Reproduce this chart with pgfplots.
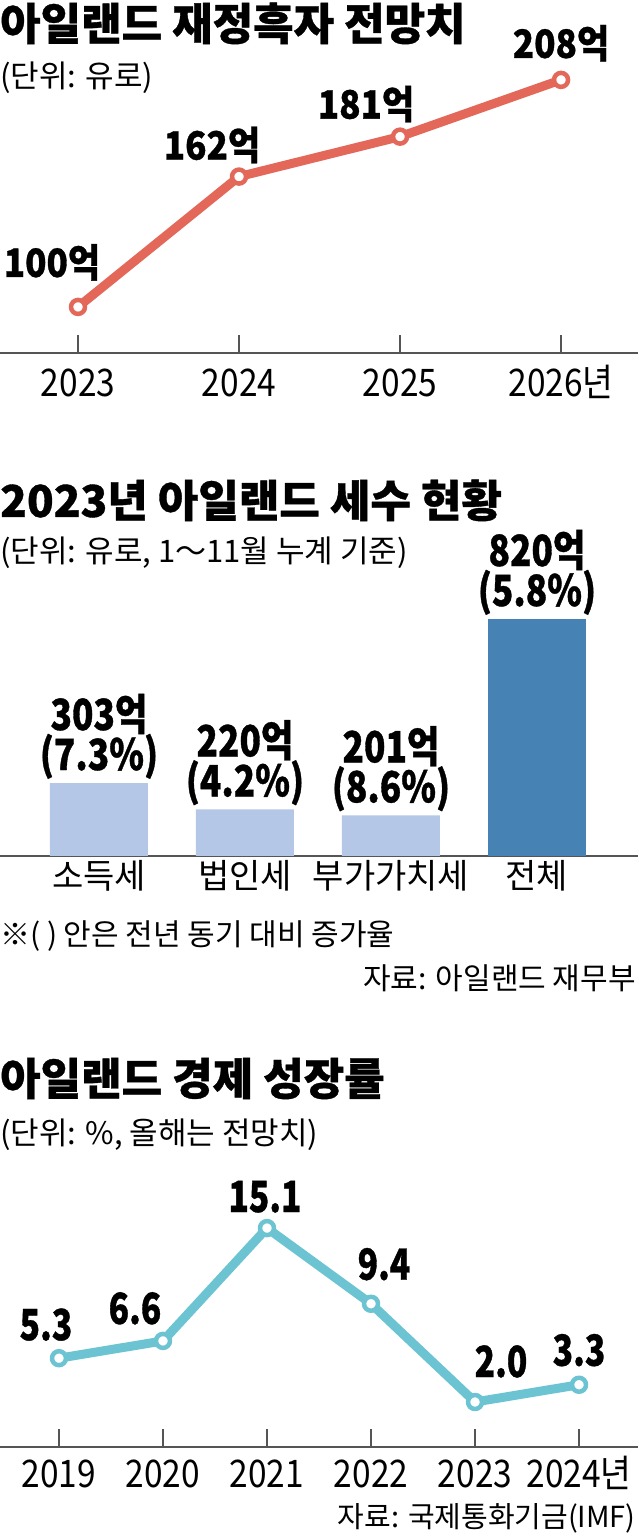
\documentclass[border=0pt]{standalone}
\usepackage{fontspec}
\setmainfont{Noto Sans CJK KR}[BoldFeatures={FakeBold=0.8}]
\newfontfamily\condT{Noto Sans CJK KR}[FakeStretch=0.88]
\newfontfamily\condA{Noto Sans CJK KR}[FakeStretch=0.9, BoldFeatures={FakeBold=0.8}]
\newfontfamily\condB{Noto Sans CJK KR}[FakeStretch=0.82, BoldFeatures={FakeBold=0.8}]
\newfontfamily\condC{Noto Sans CJK KR}[FakeStretch=0.78, BoldFeatures={FakeBold=0.8}]
\usepackage{pgfplots}
\pgfplotsset{compat=1.18}
\definecolor{lineRed}{HTML}{E3685A}
\definecolor{lineCyan}{HTML}{6CC4D2}
\definecolor{barLight}{HTML}{B4C7E7}
\definecolor{barDark}{HTML}{4682B4}
\definecolor{axisGray}{HTML}{555555}
\newcommand{\fs}[1]{\fontsize{#1}{#1}\selectfont}
\pgfplotsset{panel/.style={
  scale only axis, anchor=south west, width=638pt,
  axis x line=bottom, axis y line=none,
  x axis line style={-, draw=axisGray, line width=1.3pt},
  ytick=\empty, clip=false,
  xtick align=inside, major tick length=18pt,
  xtick style={draw=axisGray, line width=1.2pt},
  xticklabel style={anchor=base, inner sep=0pt, font=\condT\fs{38}},
}}
\begin{document}
\begin{tikzpicture}
\useasboundingbox (0pt,0pt) rectangle (638pt,1538pt);
% ---------- Panel 1 ----------
\node[anchor=base west, inner sep=0pt] at (0pt,1498pt) {\bfseries\fs{44}아일랜드 재정흑자 전망치};
\node[anchor=base west, inner sep=0pt] at (0pt,1450pt) {\fs{31}(단위: 유로)};
\begin{axis}[panel, at={(0pt,1185pt)}, height=353pt,
  xmin=-0.4845, xmax=3.478, ymin=78.1, ymax=246,
  xtick={0,1,2,3}, xticklabels={2023,2024,2025,2026년},
  xticklabel style={yshift=-44pt}]
\addplot[color=lineRed, line width=9pt, line join=round, mark=*, mark size=7pt,
  mark options={fill=white, draw=lineRed, line width=4.5pt}]
  coordinates {(0,100) (1,162) (2,181) (3,208)};
\begin{scope}[every node/.style={anchor=base, inner sep=0pt, font=\condA\bfseries\fs{39}}]
\node[xshift=-26pt, yshift=30pt] at (axis cs:0,100) {100억};
\node[xshift=-27pt, yshift=17pt] at (axis cs:1,162) {162억};
\node[xshift=-34pt, yshift=18pt] at (axis cs:2,181) {181억};
\node[xshift=0pt, yshift=22pt] at (axis cs:3,208) {208억};
\end{scope}
\end{axis}
% ---------- Panel 2 ----------
\node[anchor=base west, inner sep=0pt] at (0pt,1021pt) {\bfseries\fs{44}2023년 아일랜드 세수 현황};
\node[anchor=base west, inner sep=0pt] at (0pt,975pt) {\fs{31}(단위: 유로, 1～11월 누계 기준)};
\begin{axis}[panel, at={(0pt,682pt)}, height=256pt,
  xmin=-0.678, xmax=3.692, ymin=73, ymax=880,
  ybar, bar width=98pt, bar shift=0pt,
  major tick length=0pt,
  xtick={0,1,2,3}, xticklabels={소득세,법인세,부가가치세,전체},
  xticklabel style={yshift=-33pt, font=\fs{34}}]
\addplot[fill=barLight, draw=none] coordinates {(0,303) (1,220) (2,201)};
\addplot[fill=barDark, draw=none] coordinates {(3,820)};
\begin{scope}[every node/.style={anchor=base, inner sep=0pt, font=\condB\bfseries\fs{43}}]
\node[yshift=53pt] at (axis cs:0,303) {303억};
\node[yshift=13pt] at (axis cs:0,303) {(7.3\%)};
\node[yshift=53pt] at (axis cs:1,220) {220억};
\node[yshift=13pt] at (axis cs:1,220) {(4.2\%)};
\node[yshift=53pt] at (axis cs:2,201) {201억};
\node[yshift=13pt] at (axis cs:2,201) {(8.6\%)};
\node[yshift=53pt] at (axis cs:3,820) {820억};
\node[yshift=13pt] at (axis cs:3,820) {(5.8\%)};
\end{scope}
\end{axis}
\node[anchor=base west, inner sep=0pt] at (0pt,592pt) {\fs{30}※( ) 안은 전년 동기 대비 증가율};
\node[anchor=base east, inner sep=0pt] at (636pt,548pt) {\fs{30}자료: 아일랜드 재무부};
% ---------- Panel 3 ----------
\node[anchor=base west, inner sep=0pt] at (0pt,443pt) {\bfseries\fs{44}아일랜드 경제 성장률};
\node[anchor=base west, inner sep=0pt] at (0pt,393pt) {\fs{31}(단위: \%, 올해는 전망치)};
\begin{axis}[panel, at={(0pt,91pt)}, height=297pt,
  xmin=-0.567, xmax=5.567, ymin=-1.389, ymax=20.98,
  xtick={0,1,2,3,4,5}, xticklabels={2019,2020,2021,2022,2023,2024년},
  xticklabel style={yshift=-40pt}]
\addplot[color=lineCyan, line width=9pt, line join=round, mark=*, mark size=7pt,
  mark options={fill=white, draw=lineCyan, line width=4.5pt}]
  coordinates {(0,5.3) (1,6.6) (2,15.1) (3,9.4) (4,2.0) (5,3.3)};
\begin{scope}[every node/.style={anchor=base, inner sep=0pt, font=\condC\bfseries\fs{43}}]
\node[xshift=-13pt, yshift=18pt] at (axis cs:0,5.3) {5.3};
\node[xshift=-28pt, yshift=17pt] at (axis cs:1,6.6) {6.6};
\node[xshift=-2pt, yshift=16pt] at (axis cs:2,15.1) {15.1};
\node[xshift=13pt, yshift=24pt] at (axis cs:3,9.4) {9.4};
\node[xshift=26pt, yshift=25pt] at (axis cs:4,2.0) {2.0};
\node[xshift=0pt, yshift=19pt] at (axis cs:5,3.3) {3.3};
\end{scope}
\end{axis}
\node[anchor=base east, inner sep=0pt] at (636pt,10pt) {\fs{29}자료: 국제통화기금(IMF)};
\end{tikzpicture}
\end{document}
